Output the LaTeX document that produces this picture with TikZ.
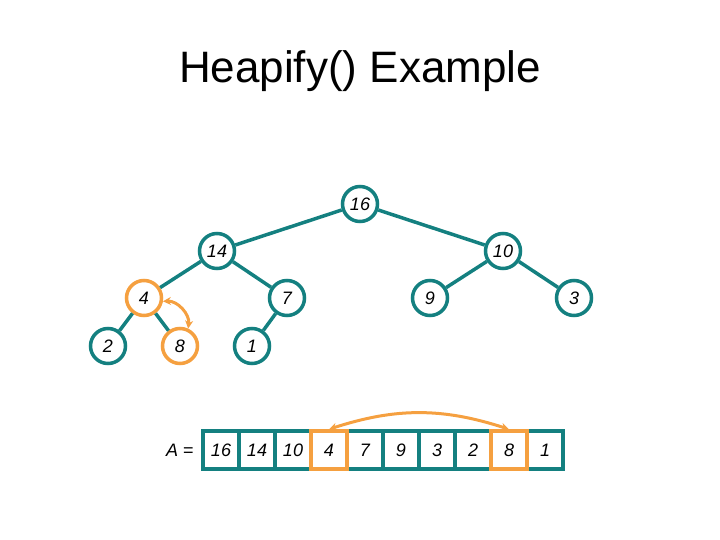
\documentclass[tikz,border=0pt]{standalone}
\usepackage{fontspec}
\setmainfont{Liberation Sans}
\usetikzlibrary{arrows.meta}

\definecolor{heapteal}{RGB}{20,128,128}
\definecolor{heaporange}{RGB}{245,160,64}

\tikzset{
  heapnode/.style={circle, draw=heapteal, line width=3.5pt, fill=white,
    minimum size=35pt, inner sep=0pt, font=\fontsize{18}{20}\selectfont\itshape},
  swapnode/.style={heapnode, draw=heaporange},
  heapedge/.style={draw=heapteal, line width=3.5pt},
  cellbox/.style={rectangle, draw=heapteal, line width=3.5pt, fill=white,
    minimum width=36pt, minimum height=38pt, inner sep=0pt,
    font=\fontsize{18}{20}\selectfont\itshape},
  swapcell/.style={cellbox, draw=heaporange, fill=none},
  swaparrow/.style={draw=heaporange, line width=3pt, {Stealth[length=8pt,width=8pt]}-{Stealth[length=8pt,width=8pt]}}
}

\begin{document}
\begin{tikzpicture}[x=1pt, y=-1pt]
  \useasboundingbox (0,0) rectangle (720,540);
  \node (title) at (360,71) {\fontsize{44}{48}\selectfont Heapify() Example};

  % tree
  \node[heapnode] (n16) at (360,204) {16};
  \node[heapnode] (n14) at (217,251) {14};
  \node[heapnode] (n10) at (503,251) {10};
  \node[swapnode] (n4) at (144,298) {4};
  \node[heapnode] (n7) at (287,298) {7};
  \node[heapnode] (n9) at (430,298) {9};
  \node[heapnode] (n3) at (574,298) {3};
  \node[heapnode] (n2) at (108,346) {2};
  \node[swapnode] (n8) at (180,346) {8};
  \node[heapnode] (n1) at (252,346) {1};
  \draw[heapedge] (n16) -- (n14);
  \draw[heapedge] (n16) -- (n10);
  \draw[heapedge] (n14) -- (n4);
  \draw[heapedge] (n14) -- (n7);
  \draw[heapedge] (n10) -- (n9);
  \draw[heapedge] (n10) -- (n3);
  \draw[heapedge] (n4) -- (n2);
  \draw[heapedge] (n4) -- (n8);
  \draw[heapedge] (n7) -- (n1);
  \draw[swaparrow] (n4.-10) to[bend left=50] (n8.65);

  % array
  \node[font=\fontsize{18}{20}\selectfont] (lbl) at (180,450) {\textit{A} =};
  \foreach \v [count=\i] in {16,14,10,4,7,9,3,2,8,1}
    \node[cellbox] (c\i) at (185+36*\i,450) {\v};
  \node[swapcell] (s4) at (c4) {};
  \node[swapcell] (s8) at (c9) {};
  \draw[swaparrow] (s8.north) to[bend right=18] (s4.north);
\end{tikzpicture}
\end{document}
